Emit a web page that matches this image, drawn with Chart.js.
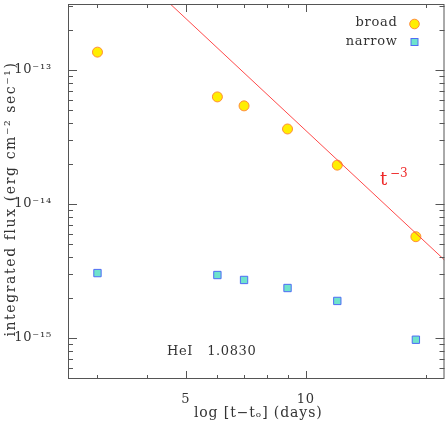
<!DOCTYPE html>
<html><head><meta charset="utf-8">
<script src="https://cdn.jsdelivr.net/npm/chart.js@4"></script>
<style>html,body{margin:0;padding:0;background:#fff}#wrap{width:447px;height:423px}</style>
</head><body><div id="wrap"><canvas id="c" width="447" height="423"></canvas></div>
<script>
const days = [3.0, 6.0, 7.0, 9.0, 12.0, 18.9];
const broadFlux = [1.36e-13, 6.3e-14, 5.4e-14, 3.63e-14, 1.95e-14, 5.7e-15];
const narrowFlux = [3.05e-15, 2.95e-15, 2.71e-15, 2.36e-15, 1.89e-15, 9.7e-16];
const fitDays = [4.57, 22.3];
const fitFlux = [3.11e-13, 3.82e-15];
const xMajorTicks = [5, 10];
const xMinorTicks = [3, 4, 6, 7, 8, 9, 20];
const yMajorTicks = [1e-13, 1e-14, 1e-15];
const yTickLabels = ['10⁻¹³', '10⁻¹⁴', '10⁻¹⁵'];
const seriesNames = ['broad', 'narrow'];
const xTitle = 'log [t−tₒ] (days)';
const yTitle = 'integrated flux (erg cm⁻² sec⁻¹)';
const lineLabel = 't';
const lineLabelExp = '−3';
const lineName = 'HeI   1.0830';

const FONT = 'DejaVu Serif';
const TXT = '#333';
const AX = '#555';
const broadFill = '#ffee00', broadEdge = '#ff8c3a';
const narrowFill = '#6fe3cc', narrowEdge = '#4f6cf5';

const spacingPlugin = {
  id: 'spacing',
  beforeDraw(chart) { chart.ctx.letterSpacing = '0.8px'; },
  afterDraw(chart) { chart.ctx.letterSpacing = '0px'; }
};

const framePlugin = {
  id: 'frame',
  afterDatasetsDraw(chart) {
    const {ctx, chartArea: a, scales: {x, y}} = chart;
    ctx.save();
    ctx.strokeStyle = AX; ctx.lineWidth = 1;
    ctx.strokeRect(a.left + 0.5, a.top + 0.5, a.right - a.left - 1, a.bottom - a.top - 1);
    ctx.beginPath();
    const xt = (v, len) => {
      const px = Math.round(x.getPixelForValue(v)) + 0.5;
      ctx.moveTo(px, a.bottom); ctx.lineTo(px, a.bottom - len);
      ctx.moveTo(px, a.top); ctx.lineTo(px, a.top + len);
    };
    xMajorTicks.forEach(v => xt(v, 8));
    xMinorTicks.forEach(v => xt(v, 4));
    const yt = (v, len) => {
      const py = Math.round(y.getPixelForValue(v)) + 0.5;
      if (py < a.top + 1 || py > a.bottom - 1) return;
      ctx.moveTo(a.left, py); ctx.lineTo(a.left + len, py);
      ctx.moveTo(a.right, py); ctx.lineTo(a.right - len, py);
    };
    yMajorTicks.forEach(v => {
      yt(v, 9);
      for (let k = 2; k <= 9; k++) yt(v * k, 5);
    });
    for (let k = 5; k <= 9; k++) yt(yMajorTicks[yMajorTicks.length - 1] * k / 10, 5);
    ctx.stroke();

    // legend
    ctx.letterSpacing = '0.7px';
    ctx.font = '13px "' + FONT + '"';
    ctx.fillStyle = TXT; ctx.textAlign = 'right'; ctx.textBaseline = 'middle';
    const mx = a.right - 30;
    ctx.fillText(seriesNames[0], a.right - 47, 23);
    ctx.fillText(seriesNames[1], a.right - 47, 42);
    ctx.beginPath(); ctx.arc(mx, 24, 4.8, 0, Math.PI * 2);
    ctx.fillStyle = broadFill; ctx.fill(); ctx.strokeStyle = broadEdge; ctx.lineWidth = 1; ctx.stroke();
    ctx.fillStyle = narrowFill; ctx.fillRect(mx - 3.5, 38.5, 7, 7);
    ctx.strokeStyle = narrowEdge; ctx.strokeRect(mx - 3.5, 38.5, 7, 7);

    // t^-3 label
    ctx.letterSpacing = '0px';
    ctx.fillStyle = '#ee2a2a'; ctx.textAlign = 'left'; ctx.textBaseline = 'alphabetic';
    ctx.font = '18px "' + FONT + '"';
    ctx.fillText(lineLabel, 380, 185);
    ctx.font = '12px "' + FONT + '"';
    ctx.fillText(lineLabelExp, 390, 177);

    // line name
    ctx.letterSpacing = '0.6px';
    ctx.fillStyle = TXT; ctx.font = '13px "' + FONT + '"';
    ctx.textBaseline = 'middle';
    ctx.fillText(lineName, 167, 352);

    // axis titles
    ctx.textAlign = 'center';
    ctx.letterSpacing = '0.9px';
    ctx.font = '14px "' + FONT + '"';
    ctx.fillText(xTitle, (a.left + a.right) / 2 + 2, 413);
    ctx.translate(11, 199);
    ctx.rotate(-Math.PI / 2);
    ctx.letterSpacing = '1.6px';
    ctx.fillText(yTitle, 0, 0);
    ctx.restore();
  }
};

new Chart(document.getElementById('c'), {
  type: 'scatter',
  data: {
    datasets: [
      {
        type: 'line', label: 'fit',
        data: fitDays.map((d, i) => ({x: d, y: fitFlux[i]})),
        borderColor: '#ff4a4a', borderWidth: 1, pointRadius: 0, fill: false
      },
      {
        label: seriesNames[0],
        data: days.map((d, i) => ({x: d, y: broadFlux[i]})),
        pointStyle: 'circle', pointRadius: 5, backgroundColor: broadFill,
        borderColor: broadEdge, borderWidth: 1
      },
      {
        label: seriesNames[1],
        data: days.map((d, i) => ({x: d, y: narrowFlux[i]})),
        pointStyle: 'rect', pointRadius: 5.2, backgroundColor: narrowFill,
        borderColor: narrowEdge, borderWidth: 1
      }
    ]
  },
  options: {
    responsive: false, animation: false, clip: true,
    layout: {autoPadding: false, padding: {top: 4, right: 2.5, left: 0, bottom: 0}},
    plugins: {legend: {display: false}, tooltip: {enabled: false}},
    scales: {
      x: {
        type: 'logarithmic', min: 2.53, max: 22.3,
        afterBuildTicks: s => { s.ticks = xMajorTicks.map(v => ({value: v})); },
        afterFit: s => { s.height = 44; s.paddingLeft = 0; s.paddingRight = 0; },
        grid: {display: false}, border: {display: false},
        ticks: {color: TXT, font: {family: FONT, size: 13}, padding: 5, maxRotation: 0,
          callback: v => String(v)},
        title: {display: false}
      },
      y: {
        type: 'logarithmic', min: 4.94e-16, max: 3.11e-13,
        afterBuildTicks: s => { s.ticks = yMajorTicks.map(v => ({value: v})); },
        afterFit: s => { s.width = 68; s.paddingTop = 0; s.paddingBottom = 0; },
        grid: {display: false}, border: {display: false},
        ticks: {color: TXT, font: {family: FONT, size: 13}, padding: 8,
          callback: v => { const i = yMajorTicks.indexOf(v); return i >= 0 ? yTickLabels[i] : ''; }},
        title: {display: false}
      }
    }
  },
  plugins: [spacingPlugin, framePlugin]
});
</script></body></html>
